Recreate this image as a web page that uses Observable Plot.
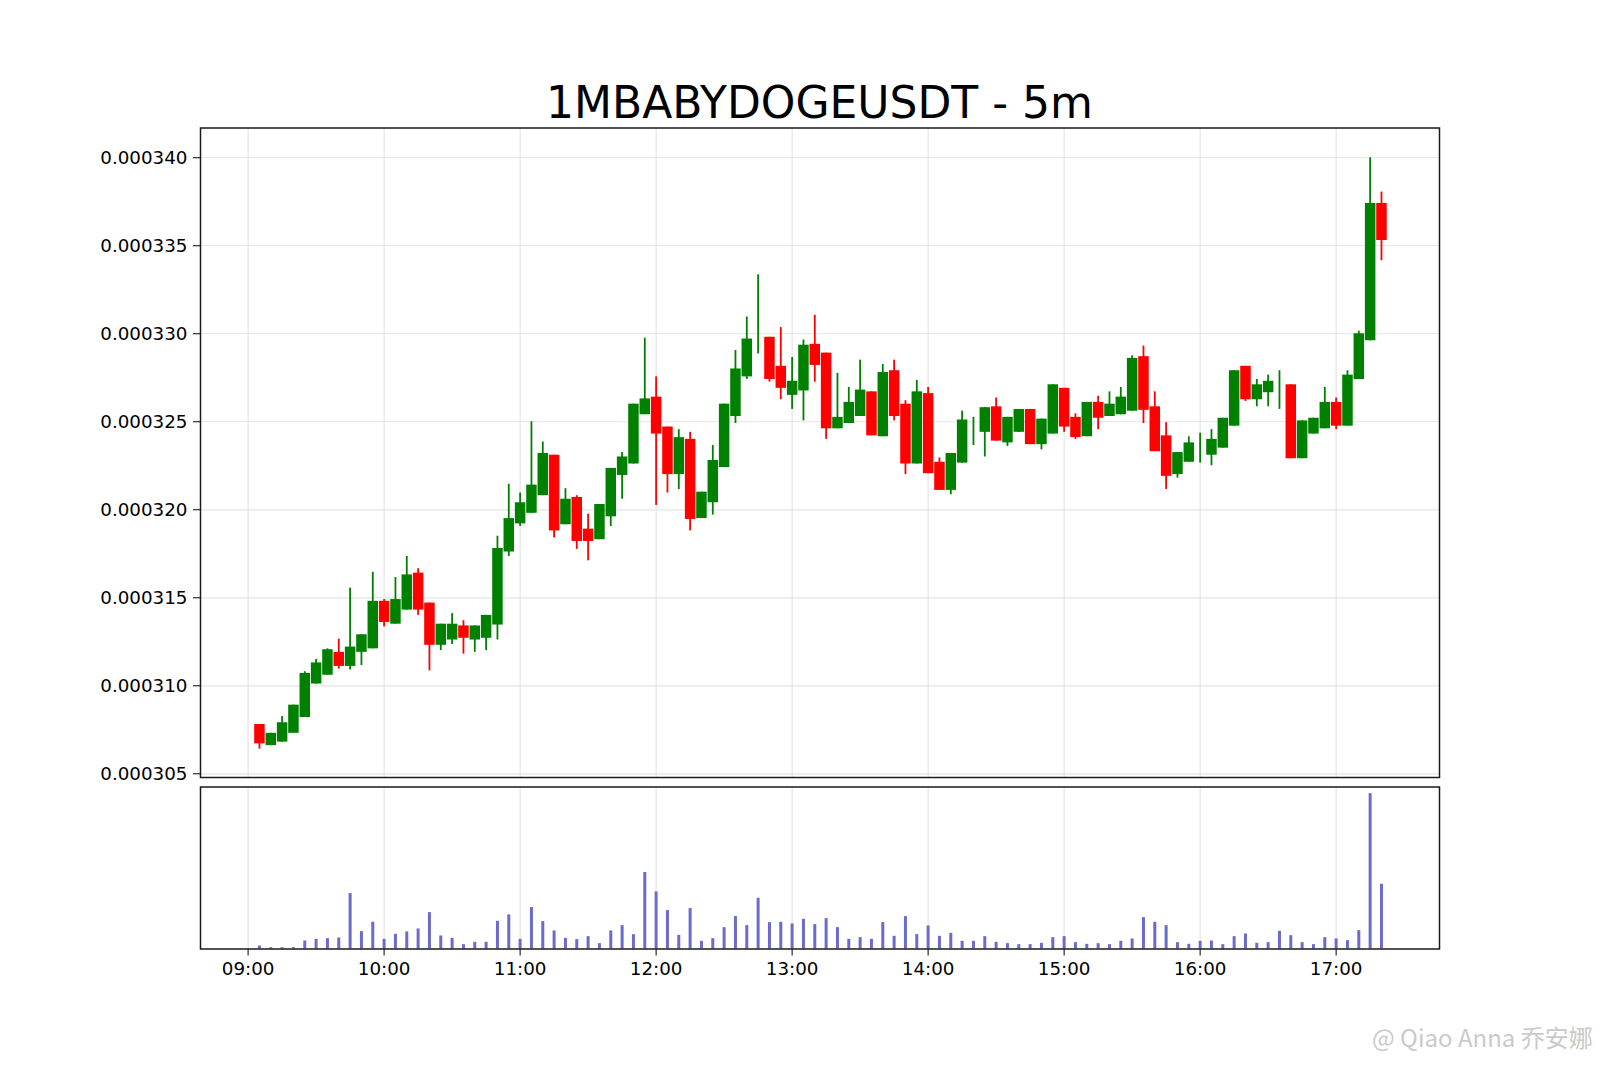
<!DOCTYPE html>
<html><head><meta charset="utf-8">
<script src="https://cdn.jsdelivr.net/npm/d3@7"></script>
<script src="https://cdn.jsdelivr.net/npm/@observablehq/plot@0.6"></script>
<style>
body{margin:0;background:#fff;}
#wrap{position:relative;width:1600px;height:1066px;overflow:hidden;background:#fff;}
#main,#vol{position:absolute;left:0;}
#main{top:0;}
#vol{top:780px;}
#title{position:absolute;left:0;width:1639px;top:81px;text-align:center;font-family:"DejaVu Sans",sans-serif;font-size:44px;line-height:44px;color:#000;z-index:2;white-space:nowrap;}
#wm{position:absolute;left:1372px;top:1025px;font-family:"Noto Sans CJK SC","Noto Sans",sans-serif;font-size:24px;line-height:24px;color:#cacaca;white-space:nowrap;z-index:2;}
</style>
</head><body>
<div id="wrap">
  <div id="main"></div>
  <div id="vol"></div>
  <div id="title">1MBABYDOGEUSDT - 5m</div>
  <div id="wm">@ Qiao Anna 乔安娜</div>
</div>
<script>
// 5-minute candle times
const times = ("09:05 09:10 09:15 09:20 09:25 09:30 09:35 09:40 09:45 09:50 09:55 " +
"10:00 10:05 10:10 10:15 10:20 10:25 10:30 10:35 10:40 10:45 10:50 10:55 " +
"11:00 11:05 11:10 11:15 11:20 11:25 11:30 11:35 11:40 11:45 11:50 11:55 " +
"12:00 12:05 12:10 12:15 12:20 12:25 12:30 12:35 12:40 12:45 12:50 12:55 " +
"13:00 13:05 13:10 13:15 13:20 13:25 13:30 13:35 13:40 13:45 13:50 13:55 " +
"14:00 14:05 14:10 14:15 14:20 14:25 14:30 14:35 14:40 14:45 14:50 14:55 " +
"15:00 15:05 15:10 15:15 15:20 15:25 15:30 15:35 15:40 15:45 15:50 15:55 " +
"16:00 16:05 16:10 16:15 16:20 16:25 16:30 16:35 16:40 16:45 16:50 16:55 " +
"17:00 17:05 17:10 17:15 17:20").split(" ");

// prices in units of 1e-6 USDT
const openE6 = [307.8,306.6,306.8,307.3,308.2,310.1,310.6,311.9,311.1,311.9,312.1,
314.8,313.5,314.3,316.4,314.7,312.3,312.6,313.4,312.6,312.7,313.45,317.6,
319.2,319.8,320.8,323.1,319.15,320.7,318.9,318.3,319.6,321.95,322.6,325.4,
326.4,324.7,322.0,324.0,319.5,320.4,322.4,325.3,327.55,329.7,329.8,328.15,
326.5,326.75,329.4,328.9,324.6,324.9,325.3,326.7,324.15,327.9,326.0,322.6,
326.6,322.7,321.1,322.65,324.5,324.4,325.85,323.8,324.4,325.7,323.7,324.3,
326.9,325.25,324.15,326.1,325.3,325.4,325.6,328.7,325.85,324.2,322.0,322.7,
323.8,323.1,323.5,324.75,328.15,326.25,326.65,327.3,327.1,322.9,324.3,324.6,
326.1,324.75,327.4,329.6,337.4];

const highE6 = [307.8,307.3,308.25,308.9,310.8,311.5,312.1,312.65,315.55,312.9,316.45,
314.9,316.15,317.35,316.65,314.7,313.5,314.1,313.7,313.4,314.0,318.5,321.45,
320.95,325.0,323.85,323.1,321.2,320.8,319.75,320.3,322.35,323.25,326.0,329.75,
327.55,324.7,324.55,324.4,321.0,323.65,326.0,329.05,330.95,333.35,329.8,330.35,
328.65,329.65,331.05,328.9,327.75,326.95,328.5,326.7,328.25,328.5,326.2,327.35,
326.95,322.95,323.2,325.6,325.25,325.8,326.35,325.25,325.7,325.7,325.15,327.1,
326.9,325.45,326.1,326.45,326.7,326.95,328.75,329.3,326.7,324.95,323.25,324.15,
324.35,324.55,325.2,327.9,328.15,327.4,327.65,327.9,327.1,325.05,325.2,326.95,
326.35,327.9,330.15,340.0,338.05];

const lowE6 = [306.4,306.6,306.8,307.3,308.2,310.1,310.6,310.95,310.9,311.15,312.1,
313.35,313.5,314.3,314.0,310.85,312.0,312.35,311.8,311.9,312.0,312.6,317.35,
319.05,319.8,320.8,318.4,319.15,317.75,317.1,318.3,319.05,320.6,322.6,325.4,
320.25,320.95,321.15,318.8,319.5,319.7,322.4,324.9,327.4,328.85,327.25,326.25,
325.7,325.05,327.25,324.0,324.6,324.9,325.3,324.2,324.15,325.05,322.0,322.6,
322.05,321.1,320.85,322.65,323.65,323.0,323.9,323.6,324.4,323.7,323.4,324.3,
324.4,324.0,324.15,324.55,325.3,325.4,325.6,324.9,323.3,321.15,321.8,322.7,
322.65,322.5,323.5,324.75,326.15,325.85,325.85,325.7,322.9,322.9,324.3,324.6,
324.55,324.75,327.4,329.6,334.15];

const closeE6 = [306.7,307.3,307.9,308.9,310.7,311.3,312.05,311.1,312.2,312.9,314.8,
313.6,314.9,316.3,314.3,312.3,313.5,313.5,312.7,313.4,314.0,317.8,319.5,
320.4,321.4,323.2,318.8,320.6,318.2,318.2,320.3,322.35,323.0,326.0,326.3,
324.3,322.0,324.1,319.45,321.0,322.8,326.0,328.0,329.7,329.7,327.4,326.9,
327.3,329.35,328.2,324.6,325.25,326.1,326.8,324.2,327.8,325.3,322.6,326.7,
322.05,321.1,323.2,325.1,324.5,325.8,323.9,325.25,325.7,323.7,325.15,327.1,
324.7,324.1,326.1,325.2,326.0,326.4,328.6,325.65,323.3,321.9,323.25,323.8,
323.8,324.0,325.2,327.9,326.25,327.1,327.3,327.3,322.9,325.05,325.2,326.1,
324.75,327.65,330.0,337.4,335.3];

// volume (relative units)
const volume = [9,4,4,4,24,29,31,33,166,52,80,
29,44,51,60,109,39,32,13,20,20,83,102,
29,124,82,54,32,28,37,16,54,70,43,229,
171,115,41,121,23,31,64,97,70,152,79,80,
75,89,73,91,64,29,34,29,79,38,97,43,
69,38,47,23,23,37,20,16,13,13,17,34,
37,19,14,16,13,23,30,94,80,70,19,14,
23,24,13,37,45,17,19,53,40,19,13,34,
30,25,55,465,194];

const priceTicksE6 = [305,310,315,320,325,330,335,340];
const hourLabels = ["09:00","10:00","11:00","12:00","13:00","14:00","15:00","16:00","17:00"];

const toMin = s => { const [h, m] = s.split(":").map(Number); return (h - 9) * 60 + m; };
const candles = times.map((t, i) => ({
  t: toMin(t),
  open: openE6[i] * 1e-6, high: highE6[i] * 1e-6,
  low: lowE6[i] * 1e-6, close: closeE6[i] * 1e-6,
  volume: volume[i]
}));
const up = candles.filter(d => d.close >= d.open);
const down = candles.filter(d => d.close < d.open);
const yTicks = priceTicksE6.map(v => v * 1e-6);
const hourTicks = hourLabels.map(toMin);
const xDomain = [-21, 525.6];
const GREEN = "#008000", RED = "#ff0000";
const gridColor = "#e4e4e4";
const frameStyle = {stroke: "#1a1a1a", strokeWidth: 1.5};
const baseStyle = {fontFamily: "DejaVu Sans", fontSize: "18.3px", color: "#000", background: "transparent", overflow: "visible"};

const main = Plot.plot({
  width: 1600, height: 785,
  marginLeft: 200, marginRight: 161, marginTop: 127.5, marginBottom: 8,
  style: baseStyle,
  x: {domain: xDomain, axis: null},
  y: {domain: [0.00030479, 0.00034169], ticks: yTicks, tickFormat: d => d.toFixed(6), tickSize: 7, tickPadding: 6, label: null},
  marks: [
    Plot.gridX(hourTicks, {stroke: gridColor, strokeOpacity: 1, strokeWidth: 1.2}),
    Plot.gridY(yTicks, {stroke: gridColor, strokeOpacity: 1, strokeWidth: 1.2}),
    Plot.ruleX(up, {x: "t", y1: "low", y2: "high", stroke: GREEN, strokeWidth: 1.8}),
    Plot.ruleX(down, {x: "t", y1: "low", y2: "high", stroke: RED, strokeWidth: 1.8}),
    Plot.ruleX(up, {x: "t", y1: "open", y2: "close", stroke: GREEN, strokeWidth: 10.5}),
    Plot.ruleX(down, {x: "t", y1: "open", y2: "close", stroke: RED, strokeWidth: 10.5}),
    Plot.frame(frameStyle)
  ]
});
document.getElementById("main").appendChild(main);

const vol = Plot.plot({
  width: 1600, height: 240,
  marginLeft: 200, marginRight: 161, marginTop: 6.5, marginBottom: 71.5,
  style: baseStyle,
  x: {domain: xDomain, ticks: hourTicks, tickFormat: (d, i) => hourLabels[i], tickSize: 7, tickPadding: 6, label: null},
  y: {domain: [0, 485], axis: null},
  marks: [
    Plot.gridX(hourTicks, {stroke: gridColor, strokeOpacity: 1, strokeWidth: 1.2}),
    Plot.ruleX(candles, {x: "t", y1: 0, y2: "volume", stroke: "#6b6bcc", strokeWidth: 3}),
    Plot.frame(frameStyle)
  ]
});
document.getElementById("vol").appendChild(vol);
</script>
</body></html>
